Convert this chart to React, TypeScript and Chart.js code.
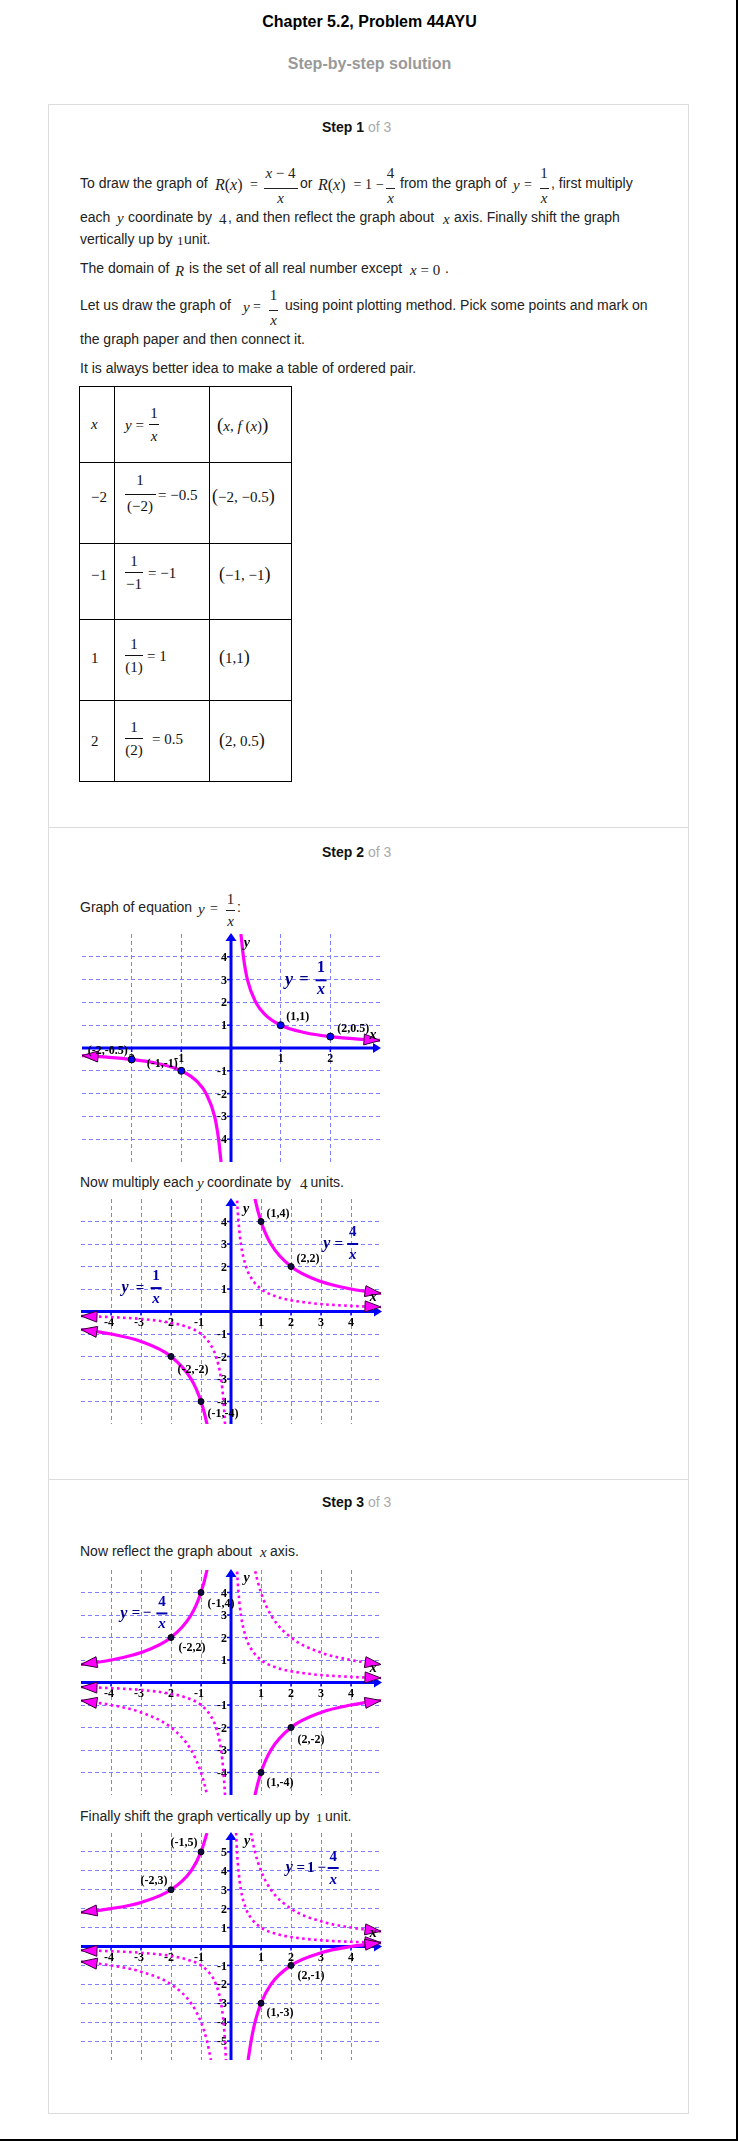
import React, { useEffect, useRef } from 'react';
import { Chart, registerables } from 'chart.js';

Chart.register(...registerables);

// ---------------- DATA ----------------
// Table of ordered pairs for y = 1/x
const TABLE_X = ['−2', '−1', '1', '2'];
const TABLE_DEN = ['(−2)', '−1', '(1)', '(2)'];
const TABLE_VAL = ['= −0.5', '= −1', '= 1', '= 0.5'];
const TABLE_PAIR = ['(−2, −0.5)', '(−1, −1)', '(1,1)', '(2, 0.5)'];

// Graph 1: y = 1/x on [-3, 3]
const G1_X_TICKS = [-2, -1, 1, 2];
const G1_Y_TICKS = [-4, -3, -2, -1, 1, 2, 3, 4];
const G1_RIGHT_X = [0.2, 0.25, 0.33, 0.5, 0.67, 1, 1.5, 2, 2.5, 3];
const G1_RIGHT_Y = [5, 4, 3, 2, 1.5, 1, 0.67, 0.5, 0.4, 0.33];
const G1_LEFT_X = [-3, -2.5, -2, -1.5, -1, -0.67, -0.5, -0.33, -0.25, -0.2];
const G1_LEFT_Y = [-0.33, -0.4, -0.5, -0.67, -1, -1.5, -2, -3, -4, -5];
const G1_PT_X = [-2, -1, 1, 2];
const G1_PT_Y = [-0.5, -1, 1, 0.5];
const G1_PT_LABELS = ['(-2,-0.5)', '(-1,-1)', '(1,1)', '(2,0.5)'];

// Shared curves on [-5, 5]
const RECIP_RIGHT_X = [0.17, 0.2, 0.25, 0.33, 0.5, 0.67, 1, 1.5, 2, 3, 4, 5];
const RECIP_RIGHT_Y = [6, 5, 4, 3, 2, 1.5, 1, 0.67, 0.5, 0.33, 0.25, 0.2];
const RECIP_LEFT_X = [-5, -4, -3, -2, -1.5, -1, -0.67, -0.5, -0.33, -0.25, -0.2, -0.17];
const RECIP_LEFT_Y = [-0.2, -0.25, -0.33, -0.5, -0.67, -1, -1.5, -2, -3, -4, -5, -6];
const FOUR_RIGHT_X = [0.67, 0.8, 1, 1.33, 2, 3, 4, 5];
const FOUR_RIGHT_Y = [6, 5, 4, 3, 2, 1.33, 1, 0.8];
const FOUR_LEFT_X = [-5, -4, -3, -2, -1.33, -1, -0.8, -0.67];
const FOUR_LEFT_Y = [-0.8, -1, -1.33, -2, -3, -4, -5, -6];
const NEG_FOUR_LEFT_X = [-5, -4, -3, -2, -1.33, -1, -0.8, -0.67];
const NEG_FOUR_LEFT_Y = [0.8, 1, 1.33, 2, 3, 4, 5, 6];
const NEG_FOUR_RIGHT_X = [0.67, 0.8, 1, 1.33, 2, 3, 4, 5];
const NEG_FOUR_RIGHT_Y = [-6, -5, -4, -3, -2, -1.33, -1, -0.8];
const SHIFT_LEFT_X = [-5, -4, -3, -2, -1.33, -1, -0.8];
const SHIFT_LEFT_Y = [1.8, 2, 2.33, 3, 4, 5, 6];
const SHIFT_RIGHT_X = [0.57, 0.67, 0.8, 1, 1.33, 2, 3, 4, 5];
const SHIFT_RIGHT_Y = [-6, -5, -4, -3, -2, -1, -0.33, 0, 0.2];

const X_TICKS_5 = [-4, -3, -2, -1, 1, 2, 3, 4];
const Y_TICKS_5 = [-4, -3, -2, -1, 1, 2, 3, 4];
const Y_TICKS_6 = [-5, -4, -3, -2, -1, 1, 2, 3, 4, 5];

const G2_PT_X = [1, 2, -2, -1];
const G2_PT_Y = [4, 2, -2, -4];
const G2_PT_LABELS = ['(1,4)', '(2,2)', '(-2,-2)', '(-1,-4)'];
const G3_PT_X = [-1, -2, 2, 1];
const G3_PT_Y = [4, 2, -2, -4];
const G3_PT_LABELS = ['(-1,4)', '(-2,2)', '(2,-2)', '(1,-4)'];
const G4_PT_X = [-1, -2, 2, 1];
const G4_PT_Y = [5, 3, -1, -3];
const G4_PT_LABELS = ['(-1,5)', '(-2,3)', '(2,-1)', '(1,-3)'];

// ---------------- STYLE ----------------
const SANS = '"Liberation Sans", Arial, Helvetica, sans-serif';
const SERIF = '"Liberation Serif", "Times New Roman", serif';
const MAGENTA = '#ff00ff';
const AXIS = '#0000ff';
const GRID = '#8080ff';
const NAVY = '#000080';
const FBLUE = '#0000b0';
const PAD = 22;

type Curve = { xs: number[]; ys: number[]; dotted?: boolean; arrowStart?: boolean; arrowEnd?: boolean };
type Tok = { text?: string; dx: number; dy: number; font?: string; color?: string; bar?: number };

const tk = (text: string, dx: number, dy: number, font: string, color: string): Tok => ({ text, dx, dy, font, color });

const G1 = {
  left: 82, top: 934, w: 298, h: 228,
  xMin: -3, xMax: 3, yMin: -5, yMax: 5, xTicks: G1_X_TICKS, yTicks: G1_Y_TICKS,
  curves: [
    { xs: G1_LEFT_X, ys: G1_LEFT_Y, arrowStart: true },
    { xs: G1_RIGHT_X, ys: G1_RIGHT_Y, arrowEnd: true },
  ] as Curve[],
  ptX: G1_PT_X, ptY: G1_PT_Y, ptLabels: G1_PT_LABELS,
  ptOff: [[-24, -8], [-19, -7], [17, -8], [23, -8]], ptFill: '#0000ff', ptR: 3.5,
  anns: [
    {
      x: 1.17, y: 2.97, toks: [
        tk('y', 0, 0, 'bold italic 18px "Liberation Serif"', NAVY),
        tk('=', 15, 0, 'bold 16px "Liberation Serif"', NAVY),
        tk('1', 32, -12, 'bold 16px "Liberation Serif"', FBLUE),
        { bar: 11, dx: 32, dy: 0, color: FBLUE },
        tk('x', 32, 10, 'bold italic 16px "Liberation Serif"', FBLUE),
      ] as Tok[],
    },
  ],
  yLetter: [0.32, 4.59], xLetter: [2.86, 0.56],
};

const G2 = {
  left: 81, top: 1199, w: 300, h: 225,
  xMin: -5, xMax: 5, yMin: -5, yMax: 5, xTicks: X_TICKS_5, yTicks: Y_TICKS_5,
  curves: [
    { xs: RECIP_LEFT_X, ys: RECIP_LEFT_Y, dotted: true, arrowStart: true },
    { xs: RECIP_RIGHT_X, ys: RECIP_RIGHT_Y, dotted: true, arrowEnd: true },
    { xs: FOUR_LEFT_X, ys: FOUR_LEFT_Y, arrowStart: true },
    { xs: FOUR_RIGHT_X, ys: FOUR_RIGHT_Y, arrowEnd: true },
  ] as Curve[],
  ptX: G2_PT_X, ptY: G2_PT_Y, ptLabels: G2_PT_LABELS,
  ptOff: [[17, -8], [17, -8], [22, 13], [22, 12]], ptFill: '#101040', ptR: 3,
  anns: [
    {
      x: 3.19, y: 3.0, toks: [
        tk('y', 0, 0, 'bold italic 16px "Liberation Serif"', NAVY),
        tk('=', 12, 0, 'bold 15px "Liberation Serif"', NAVY),
        tk('4', 26, -12, 'bold 15px "Liberation Serif"', FBLUE),
        { bar: 11, dx: 26, dy: 0, color: FBLUE },
        tk('x', 26, 11, 'bold italic 15px "Liberation Serif"', FBLUE),
      ] as Tok[],
    },
    {
      x: -3.53, y: 1.04, toks: [
        tk('y', 0, 0, 'bold italic 16px "Liberation Serif"', NAVY),
        tk('=', 15, 0, 'bold 15px "Liberation Serif"', NAVY),
        tk('1', 31, -12, 'bold 15px "Liberation Serif"', FBLUE),
        { bar: 11, dx: 31, dy: 0, color: FBLUE },
        tk('x', 31, 11, 'bold italic 15px "Liberation Serif"', FBLUE),
      ] as Tok[],
    },
  ],
  yLetter: [0.5, 4.55], xLetter: [4.74, 0.62],
};

const G3 = {
  left: 81, top: 1570, w: 300, h: 225,
  xMin: -5, xMax: 5, yMin: -5, yMax: 5, xTicks: X_TICKS_5, yTicks: Y_TICKS_5,
  curves: [
    { xs: RECIP_LEFT_X, ys: RECIP_LEFT_Y, dotted: true, arrowStart: true },
    { xs: RECIP_RIGHT_X, ys: RECIP_RIGHT_Y, dotted: true, arrowEnd: true },
    { xs: FOUR_LEFT_X, ys: FOUR_LEFT_Y, dotted: true, arrowStart: true },
    { xs: FOUR_RIGHT_X, ys: FOUR_RIGHT_Y, dotted: true, arrowEnd: true },
    { xs: NEG_FOUR_LEFT_X, ys: NEG_FOUR_LEFT_Y, arrowStart: true },
    { xs: NEG_FOUR_RIGHT_X, ys: NEG_FOUR_RIGHT_Y, arrowEnd: true },
  ] as Curve[],
  ptX: G3_PT_X, ptY: G3_PT_Y, ptLabels: G3_PT_LABELS,
  ptOff: [[20, 11], [21, 10], [20, 12], [19, 10]], ptFill: '#101040', ptR: 3,
  anns: [
    {
      x: -3.57, y: 3.07, toks: [
        tk('y', 0, 0, 'bold italic 16px "Liberation Serif"', NAVY),
        tk('=', 12, 0, 'bold 15px "Liberation Serif"', NAVY),
        tk('−', 23, 0, 'bold 15px "Liberation Serif"', NAVY),
        tk('4', 38, -11, 'bold 15px "Liberation Serif"', FBLUE),
        { bar: 11, dx: 38, dy: 0, color: FBLUE },
        tk('x', 38, 11, 'bold italic 15px "Liberation Serif"', FBLUE),
      ] as Tok[],
    },
  ],
  yLetter: [0.52, 4.63], xLetter: [4.74, 0.62],
};

const G4 = {
  left: 81, top: 1833, w: 300, h: 227,
  xMin: -5, xMax: 5, yMin: -6, yMax: 6, xTicks: X_TICKS_5, yTicks: Y_TICKS_6,
  curves: [
    { xs: RECIP_LEFT_X, ys: RECIP_LEFT_Y, dotted: true, arrowStart: true },
    { xs: RECIP_RIGHT_X, ys: RECIP_RIGHT_Y, dotted: true, arrowEnd: true },
    { xs: FOUR_LEFT_X, ys: FOUR_LEFT_Y, dotted: true, arrowStart: true },
    { xs: FOUR_RIGHT_X, ys: FOUR_RIGHT_Y, dotted: true, arrowEnd: true },
    { xs: SHIFT_LEFT_X, ys: SHIFT_LEFT_Y, arrowStart: true },
    { xs: SHIFT_RIGHT_X, ys: SHIFT_RIGHT_Y, arrowEnd: true },
  ] as Curve[],
  ptX: G4_PT_X, ptY: G4_PT_Y, ptLabels: G4_PT_LABELS,
  ptOff: [[-17, -9], [-17, -9], [20, 10], [19, 10]], ptFill: '#101040', ptR: 3,
  anns: [
    {
      x: 1.94, y: 4.15, toks: [
        tk('y', 0, 0, 'bold italic 16px "Liberation Serif"', NAVY),
        tk('=', 11.5, 0, 'bold 15px "Liberation Serif"', NAVY),
        tk('1', 21.5, 0, 'bold 15px "Liberation Serif"', NAVY),
        tk('−', 32.5, 0, 'bold 15px "Liberation Serif"', NAVY),
        tk('4', 44, -11, 'bold 15px "Liberation Serif"', FBLUE),
        { bar: 11, dx: 44, dy: 0, color: FBLUE },
        tk('x', 44, 12, 'bold italic 15px "Liberation Serif"', FBLUE),
      ] as Tok[],
    },
  ],
  yLetter: [0.54, 5.56], xLetter: [4.74, 0.71],
};

// ---------------- CHART ----------------
function drawArrowHead(ctx: CanvasRenderingContext2D, tip: any, from: any) {
  let ux = tip.x - from.x;
  let uy = tip.y - from.y;
  const len = Math.hypot(ux, uy) || 1;
  ux /= len; uy /= len;
  const L = 16, W = 5.5;
  const bx = tip.x - ux * L, by = tip.y - uy * L;
  ctx.beginPath();
  ctx.moveTo(tip.x, tip.y);
  ctx.lineTo(bx - uy * W, by + ux * W);
  ctx.lineTo(bx + uy * W, by - ux * W);
  ctx.closePath();
  ctx.fillStyle = MAGENTA;
  ctx.fill();
  ctx.lineWidth = 1;
  ctx.strokeStyle = '#330033';
  ctx.stroke();
}

function makePlugin(cfg: any) {
  return {
    id: 'mathAxes',
    beforeDatasetsDraw(chart: any) {
      const { ctx, chartArea: a, scales } = chart;
      const xs = scales.x, ys = scales.y;
      const ox = xs.getPixelForValue(0), oy = ys.getPixelForValue(0);
      ctx.save();
      ctx.strokeStyle = AXIS;
      ctx.fillStyle = AXIS;
      ctx.lineWidth = 3;
      ctx.beginPath();
      ctx.moveTo(a.left, oy);
      ctx.lineTo(a.right - 5, oy);
      ctx.stroke();
      ctx.beginPath();
      ctx.moveTo(a.right + 1, oy);
      ctx.lineTo(a.right - 7, oy - 5);
      ctx.lineTo(a.right - 7, oy + 5);
      ctx.closePath();
      ctx.fill();
      ctx.beginPath();
      ctx.moveTo(ox, a.bottom);
      ctx.lineTo(ox, a.top + 5);
      ctx.stroke();
      ctx.beginPath();
      ctx.moveTo(ox, a.top - 1);
      ctx.lineTo(ox - 5.5, a.top + 7);
      ctx.lineTo(ox + 5.5, a.top + 7);
      ctx.closePath();
      ctx.fill();
      ctx.lineWidth = 1.5;
      cfg.xTicks.forEach((v: number) => {
        const px = xs.getPixelForValue(v);
        ctx.beginPath(); ctx.moveTo(px, oy); ctx.lineTo(px, oy + 4); ctx.stroke();
      });
      cfg.yTicks.forEach((v: number) => {
        const py = ys.getPixelForValue(v);
        ctx.beginPath(); ctx.moveTo(ox - 4, py); ctx.lineTo(ox, py); ctx.stroke();
      });
      ctx.fillStyle = '#000';
      ctx.font = 'bold 12px "Liberation Serif"';
      ctx.textBaseline = 'middle';
      ctx.textAlign = 'center';
      cfg.xTicks.forEach((v: number) => {
        ctx.fillText(String(v), xs.getPixelForValue(v) - (v < 0 ? 2 : 0), oy + 11);
      });
      ctx.textAlign = 'right';
      cfg.yTicks.forEach((v: number) => {
        ctx.fillText(String(v), ox - 4, ys.getPixelForValue(v) + 1);
      });
      ctx.restore();
    },
    afterDatasetsDraw(chart: any) {
      const { ctx, scales } = chart;
      const xs = scales.x, ys = scales.y;
      ctx.save();
      cfg.curves.forEach((c: Curve, i: number) => {
        const pts = chart.getDatasetMeta(i).data;
        const n = pts.length;
        if (c.arrowStart) drawArrowHead(ctx, pts[0], pts[1]);
        if (c.arrowEnd) drawArrowHead(ctx, pts[n - 1], pts[n - 2]);
      });
      // point markers on top
      const pm = chart.getDatasetMeta(cfg.curves.length).data;
      pm.forEach((p: any) => {
        ctx.beginPath();
        ctx.arc(p.x, p.y, cfg.ptR, 0, Math.PI * 2);
        ctx.fillStyle = cfg.ptFill;
        ctx.fill();
        ctx.lineWidth = 1;
        ctx.strokeStyle = '#000';
        ctx.stroke();
      });
      // point labels
      ctx.fillStyle = '#000';
      ctx.font = 'bold 12px "Liberation Serif"';
      ctx.textAlign = 'center';
      ctx.textBaseline = 'middle';
      cfg.ptLabels.forEach((lab: string, i: number) => {
        const px = xs.getPixelForValue(cfg.ptX[i]) + cfg.ptOff[i][0];
        const py = ys.getPixelForValue(cfg.ptY[i]) + cfg.ptOff[i][1];
        ctx.fillText(lab, px, py);
      });
      // axis letters
      ctx.font = 'bold italic 14px "Liberation Serif"';
      ctx.fillText('y', xs.getPixelForValue(cfg.yLetter[0]), ys.getPixelForValue(cfg.yLetter[1]));
      ctx.fillText('x', xs.getPixelForValue(cfg.xLetter[0]), ys.getPixelForValue(cfg.xLetter[1]));
      // equation annotations
      cfg.anns.forEach((an: any) => {
        const ax = xs.getPixelForValue(an.x), ay = ys.getPixelForValue(an.y);
        an.toks.forEach((t: Tok) => {
          if (t.bar) {
            ctx.fillStyle = t.color || NAVY;
            ctx.fillRect(ax + t.dx - t.bar / 2, ay + t.dy - 1, t.bar, 2);
          } else if (t.text) {
            ctx.fillStyle = t.color || NAVY;
            ctx.font = t.font || 'bold 15px "Liberation Serif"';
            ctx.fillText(t.text, ax + t.dx, ay + t.dy);
          }
        });
      });
      ctx.restore();
    },
  };
}

function gridColor(min: number, max: number) {
  return (c: any) => {
    const v = c.tick ? c.tick.value : NaN;
    return v === min || v === max || v === 0 ? 'rgba(0,0,0,0)' : GRID;
  };
}

function Graph({ cfg }: { cfg: any }) {
  const ref = useRef<HTMLCanvasElement>(null);
  const W = cfg.w + PAD * 2;
  const H = cfg.h + PAD * 2;
  useEffect(() => {
    const datasets: any[] = cfg.curves.map((c: Curve) => ({
      data: c.xs.map((x: number, i: number) => ({ x, y: c.ys[i] })),
      showLine: true,
      borderColor: MAGENTA,
      borderWidth: c.dotted ? 2.6 : 3.2,
      borderDash: c.dotted ? [2.6, 3.4] : [],
      borderCapStyle: 'butt',
      pointRadius: 0,
      pointHoverRadius: 0,
      cubicInterpolationMode: 'monotone',
      fill: false,
    }));
    datasets.push({
      data: cfg.ptX.map((x: number, i: number) => ({ x, y: cfg.ptY[i] })),
      showLine: false,
      pointRadius: 0,
      pointHoverRadius: 0,
      borderWidth: 0,
    });
    const chart = new Chart(ref.current as HTMLCanvasElement, {
      type: 'line',
      data: { datasets },
      options: {
        animation: false,
        responsive: false,
        events: [],
        layout: { padding: PAD },
        plugins: { legend: { display: false }, tooltip: { enabled: false } },
        scales: {
          x: {
            type: 'linear', min: cfg.xMin, max: cfg.xMax,
            ticks: { display: false, stepSize: 1 },
            grid: { color: gridColor(cfg.xMin, cfg.xMax), lineWidth: 1, drawTicks: false },
            border: { display: false, dash: [4, 3] },
          },
          y: {
            type: 'linear', min: cfg.yMin, max: cfg.yMax,
            ticks: { display: false, stepSize: 1 },
            grid: { color: gridColor(cfg.yMin, cfg.yMax), lineWidth: 1, drawTicks: false },
            border: { display: false, dash: [4, 3] },
          },
        },
      } as any,
      plugins: [makePlugin(cfg)],
    });
    return () => chart.destroy();
  }, []);
  return (
    <canvas
      ref={ref}
      width={W}
      height={H}
      style={{ position: 'absolute', left: cfg.left - PAD, top: cfg.top - PAD, width: W, height: H }}
    />
  );
}

// ---------------- TEXT HELPERS ----------------
function Tx(props: any) {
  const { x, y, children, size = 14, serif = false, italic = false, bold = false, color = '#222', align = 'left' } = props;
  const style: any = {
    position: 'absolute',
    top: y - 9,
    lineHeight: '18px',
    fontSize: size,
    fontFamily: serif ? SERIF : SANS,
    fontStyle: italic ? 'italic' : 'normal',
    fontWeight: bold ? 'bold' : 'normal',
    color,
    whiteSpace: 'pre',
  };
  if (align === 'center') {
    style.left = x - 150;
    style.width = 300;
    style.textAlign = 'center';
  } else {
    style.left = x;
  }
  return <div style={style}>{children}</div>;
}

function Frac(props: any) {
  const { cx, y, num, den, w, nd = -10, dd = 15, bd = 5, size = 15, color = '#222' } = props;
  return (
    <>
      <Tx x={cx} y={y + nd} serif align="center" size={size} color={color}>{num}</Tx>
      <div style={{ position: 'absolute', left: cx - w / 2, top: y + bd, width: w, height: 1, background: color }} />
      <Tx x={cx} y={y + dd} serif align="center" size={size} color={color}>{den}</Tx>
    </>
  );
}

function Line({ x, y, w, h }: any) {
  return <div style={{ position: 'absolute', left: x, top: y, width: w, height: h, background: '#000' }} />;
}

function StepHead({ n, y }: any) {
  return (
    <div style={{ position: 'absolute', left: 322, top: y - 9, lineHeight: '18px', fontSize: 14, fontFamily: SANS, whiteSpace: 'pre' }}>
      <span style={{ fontWeight: 'bold', color: '#111' }}>Step {n}</span>
      <span style={{ color: '#aaa' }}> of 3</span>
    </div>
  );
}

const Ix = () => <i>x</i>;

export default function App() {
  const T = '#111';
  return (
    <div
      style={{
        position: 'absolute', left: 0, top: 0, width: 738, height: 2141, boxSizing: 'border-box',
        borderRight: '2px solid #000', borderBottom: '2px solid #000', background: '#fff', overflow: 'hidden',
      }}
    >
      <Tx x={369.5} y={22} align="center" bold size={16} color="#000">Chapter 5.2, Problem 44AYU</Tx>
      <Tx x={369.5} y={64} align="center" bold size={16} color="#999">Step-by-step solution</Tx>

      <div style={{ position: 'absolute', left: 48, top: 104, width: 641, height: 2010, boxSizing: 'border-box', border: '1px solid #dcdcdc' }} />
      <div style={{ position: 'absolute', left: 48, top: 827, width: 641, height: 1, background: '#dcdcdc' }} />
      <div style={{ position: 'absolute', left: 48, top: 1479, width: 641, height: 1, background: '#dcdcdc' }} />

      <StepHead n={1} y={127} />
      <StepHead n={2} y={852} />
      <StepHead n={3} y={1502} />

      {/* Step 1 text */}
      <Tx x={80} y={183}>To draw the graph of</Tx>
      <Tx x={215} y={185} serif size={16}><i>R</i>(<i>x</i>)</Tx>
      <Tx x={254} y={185} serif align="center">=</Tx>
      <Frac cx={280.5} y={183} num={<><i>x</i> − 4</>} den={<Ix />} w={34} />
      <Tx x={300} y={183}>or</Tx>
      <Tx x={318} y={185} serif size={16}><i>R</i>(<i>x</i>)</Tx>
      <Tx x={357.5} y={185} serif align="center">=</Tx>
      <Tx x={368.5} y={185} serif align="center">1</Tx>
      <Tx x={380} y={185} serif align="center">−</Tx>
      <Frac cx={390.6} y={183} num="4" den={<Ix />} w={9} />
      <Tx x={400} y={183}>from the graph of</Tx>
      <Tx x={513} y={185} serif italic size={15}>y</Tx>
      <Tx x={528} y={185} serif align="center">=</Tx>
      <Frac cx={544} y={183} num="1" den={<Ix />} w={9} />
      <Tx x={551} y={183}>, first multiply</Tx>

      <Tx x={80} y={217}>each</Tx>
      <Tx x={117} y={218} serif italic size={15}>y</Tx>
      <Tx x={128} y={217}>coordinate by</Tx>
      <Tx x={219} y={219} serif size={15}>4</Tx>
      <Tx x={228} y={217}>, and then reflect the graph about</Tx>
      <Tx x={443} y={219} serif italic size={15}>x</Tx>
      <Tx x={454} y={217}>axis. Finally shift the graph</Tx>

      <Tx x={80} y={239}>vertically up by</Tx>
      <Tx x={177} y={241} serif size={13}>1</Tx>
      <Tx x={184} y={239}>unit.</Tx>

      <Tx x={80} y={268}>The domain of</Tx>
      <Tx x={175} y={271} serif italic size={15}>R</Tx>
      <Tx x={189} y={268}>is the set of all real number except</Tx>
      <Tx x={410} y={270} serif size={15}><i>x</i> = 0</Tx>
      <Tx x={445} y={268}>.</Tx>

      <Tx x={80} y={305}>Let us draw the graph of</Tx>
      <Tx x={243} y={307} serif italic size={15}>y</Tx>
      <Tx x={257} y={307} serif align="center">=</Tx>
      <Frac cx={273.5} y={305} num="1" den={<Ix />} w={9} />
      <Tx x={285} y={305}>using point plotting method. Pick some points and mark on</Tx>

      <Tx x={80} y={339}>the graph paper and then connect it.</Tx>
      <Tx x={80} y={368}>It is always better idea to make a table of ordered pair.</Tx>

      {/* Table */}
      <div style={{ position: 'absolute', left: 79, top: 386, width: 213, height: 396, boxSizing: 'border-box', border: '1px solid #000' }} />
      <Line x={114} y={386} w={1} h={396} />
      <Line x={209} y={386} w={1} h={396} />
      <Line x={79} y={462} w={213} h={1} />
      <Line x={79} y={543} w={213} h={1} />
      <Line x={79} y={619} w={213} h={1} />
      <Line x={79} y={700} w={213} h={1} />

      <Tx x={91} y={424} serif italic size={15} color={T}>x</Tx>
      <Tx x={125} y={425} serif size={15} color={T}><i>y</i> =</Tx>
      <Frac cx={154} y={424} num="1" den={<Ix />} w={10} nd={-11} dd={12} bd={0} color={T} />
      <Tx x={217} y={425} serif size={15} color={T}>
        <span style={{ fontSize: 19 }}>(</span><i>x</i>, <i>f</i> (<i>x</i>)<span style={{ fontSize: 19 }}>)</span>
      </Tx>

      {[496, 574, 657, 740].map((ry, i) => (
        <React.Fragment key={i}>
          <Tx x={91} y={ry + 1} serif size={15} color={T}>{TABLE_X[i]}</Tx>
          <Frac cx={i === 0 ? 140 : 134} y={ry - 1} num="1" den={TABLE_DEN[i]} w={i === 0 ? 31 : 18} nd={i === 0 ? -15 : -12} dd={11} bd={-1} color={T} />
          <Tx x={i === 0 ? 158 : i === 1 ? 148 : i === 2 ? 147 : 152} y={ry - 1} serif size={15} color={T}>{TABLE_VAL[i]}</Tx>
          <Tx x={i === 0 ? 212 : 219} y={ry} serif size={15} color={T}>
            <span style={{ fontSize: 18 }}>{TABLE_PAIR[i].slice(0, 1)}</span>
            {TABLE_PAIR[i].slice(1, -1)}
            <span style={{ fontSize: 18 }}>{TABLE_PAIR[i].slice(-1)}</span>
          </Tx>
        </React.Fragment>
      ))}

      {/* Step 2 */}
      <Tx x={80} y={907}>Graph of equation</Tx>
      <Tx x={198} y={909} serif italic size={15}>y</Tx>
      <Tx x={214} y={909} serif align="center">=</Tx>
      <Frac cx={230.5} y={907} num="1" den={<Ix />} w={9} nd={-8} dd={14} bd={3} />
      <Tx x={237} y={907}>:</Tx>

      <Tx x={80} y={1182}>Now multiply each</Tx>
      <Tx x={197} y={1183} serif italic size={15}>y</Tx>
      <Tx x={207} y={1182}>coordinate by</Tx>
      <Tx x={300} y={1184} serif size={15}>4</Tx>
      <Tx x={310.5} y={1182}>units.</Tx>

      {/* Step 3 */}
      <Tx x={80} y={1551}>Now reflect the graph about</Tx>
      <Tx x={260} y={1552} serif italic size={15}>x</Tx>
      <Tx x={270} y={1551}>axis.</Tx>

      <Tx x={80} y={1816}>Finally shift the graph vertically up by</Tx>
      <Tx x={316} y={1818} serif size={13}>1</Tx>
      <Tx x={325} y={1816}>unit.</Tx>

      <Graph cfg={G1} />
      <Graph cfg={G2} />
      <Graph cfg={G3} />
      <Graph cfg={G4} />
    </div>
  );
}
